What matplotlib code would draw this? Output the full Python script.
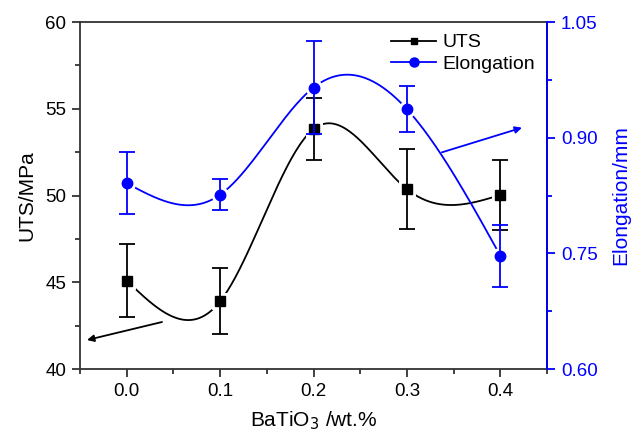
import numpy as np
import matplotlib
matplotlib.use("Agg")
import matplotlib.pyplot as plt
from matplotlib.ticker import MultipleLocator

plt.rcParams['font.family'] = ['Liberation Sans', 'DejaVu Sans']

# --- data ---
batio3 = [0.0, 0.1, 0.2, 0.3, 0.4]
uts = [45.1, 43.9, 53.83, 50.37, 50.03]
uts_err = [2.1, 1.9, 1.8, 2.3, 2.0]
elong = [0.841, 0.826, 0.965, 0.937, 0.747]
elong_err = [0.04, 0.02, 0.06, 0.03, 0.04]

BLUE = '#0000ff'


def natural_spline(x, y, n=300):
    # smooth connecting line (natural cubic spline) for drawing only
    x = np.asarray(x, float)
    y = np.asarray(y, float)
    k = len(x)
    h = np.diff(x)
    A = np.zeros((k, k))
    b = np.zeros(k)
    A[0, 0] = A[-1, -1] = 1
    for i in range(1, k - 1):
        A[i, i - 1] = h[i - 1]
        A[i, i] = 2 * (h[i - 1] + h[i])
        A[i, i + 1] = h[i]
        b[i] = 6 * ((y[i + 1] - y[i]) / h[i] - (y[i] - y[i - 1]) / h[i - 1])
    M = np.linalg.solve(A, b)
    xs = np.linspace(x[0], x[-1], n)
    idx = np.clip(np.searchsorted(x, xs) - 1, 0, k - 2)
    x0, x1 = x[idx], x[idx + 1]
    hh = x1 - x0
    t0, t1 = x1 - xs, xs - x0
    ys = (M[idx] * t0 ** 3 + M[idx + 1] * t1 ** 3) / (6 * hh) \
        + (y[idx] / hh - M[idx] * hh / 6) * t0 \
        + (y[idx + 1] / hh - M[idx + 1] * hh / 6) * t1
    return xs, ys


fig = plt.figure(figsize=(6.32, 4.32), dpi=100)
ax1 = fig.add_axes([0.1266, 0.1458, 0.7389, 0.8032])
ax2 = ax1.twinx()

# UTS on left axis
sx, sy = natural_spline(batio3, uts)
ax1.plot(sx, sy, color='black', lw=1.3, zorder=2)
ax1.plot(batio3, uts, 's', ms=6.5, color='white', mec='white', mew=5, zorder=3)
ax1.errorbar(batio3, uts, yerr=uts_err, fmt='none', ecolor='black',
             elinewidth=1.3, capsize=5.5, capthick=1.3, zorder=4)
ax1.plot(batio3, uts, 's', ms=6.5, color='black', zorder=5)

# Elongation on right axis
ex, ey = natural_spline(batio3, elong)
ax2.plot(ex, ey, color=BLUE, lw=1.3, zorder=2)
ax2.plot(batio3, elong, 'o', ms=7.5, color='white', mec='white', mew=5, zorder=3)
ax2.errorbar(batio3, elong, yerr=elong_err, fmt='none', ecolor=BLUE,
             elinewidth=1.3, capsize=5.5, capthick=1.3, zorder=4)
ax2.plot(batio3, elong, 'o', ms=7.5, color=BLUE, zorder=5)

ax1.set_xlim(-0.05, 0.45)
ax1.set_ylim(40, 60)
ax2.set_ylim(0.60, 1.05)

ax1.xaxis.set_major_locator(MultipleLocator(0.1))
ax1.xaxis.set_minor_locator(MultipleLocator(0.05))
ax1.yaxis.set_major_locator(MultipleLocator(5))
ax1.yaxis.set_minor_locator(MultipleLocator(2.5))
ax2.yaxis.set_major_locator(MultipleLocator(0.15))
ax2.yaxis.set_minor_locator(MultipleLocator(0.075))
ax1.xaxis.set_major_formatter(plt.FormatStrFormatter('%.1f'))
ax2.yaxis.set_major_formatter(plt.FormatStrFormatter('%.2f'))

for ax in (ax1, ax2):
    for s in ax.spines.values():
        s.set_linewidth(1.3)
ax1.spines['top'].set_color('#333333')
ax1.spines['left'].set_color('#333333')
ax1.spines['bottom'].set_color('#333333')
ax2.spines['right'].set_color(BLUE)
ax2.spines['top'].set_visible(False)
ax2.spines['left'].set_visible(False)
ax2.spines['bottom'].set_visible(False)

ax1.tick_params(axis='both', which='major', direction='out', length=6, width=1.3,
                labelsize=13.5, colors='#333333', labelcolor='black', pad=4)
ax1.tick_params(axis='both', which='minor', direction='out', length=3.5, width=1.3,
                colors='#333333')
ax2.tick_params(axis='y', which='major', direction='out', length=6, width=1.3,
                labelsize=13.5, colors=BLUE, pad=4)
ax2.tick_params(axis='y', which='minor', direction='out', length=3.5, width=1.3,
                colors=BLUE)

ax1.set_xlabel('BaTiO$_3$ /wt.%', fontsize=15, labelpad=7)
ax1.set_ylabel('UTS/MPa', fontsize=15, labelpad=6)
ax2.set_ylabel('Elongation/mm', fontsize=15, color=BLUE, labelpad=10)

# arrows pointing to the relevant axis
ax1.annotate('', xy=(-0.0425, 41.67), xytext=(0.0378, 42.71),
             arrowprops=dict(arrowstyle='-|>', color='black', lw=1.3,
                             mutation_scale=10, shrinkA=0, shrinkB=0))
ax1.annotate('', xy=(0.4232, 53.91), xytext=(0.3375, 52.49),
             arrowprops=dict(arrowstyle='-|>', color=BLUE, lw=1.3,
                             mutation_scale=10, shrinkA=0, shrinkB=0))

# legend
h1 = plt.Line2D([], [], color='black', lw=1.3, marker='s', ms=5)
h2 = plt.Line2D([], [], color=BLUE, lw=1.3, marker='o', ms=6.5)
ax2.legend([h1, h2], ['UTS', 'Elongation'], loc='upper right',
           bbox_to_anchor=(1.0, 1.0), frameon=False, fontsize=14,
           handlelength=2.3, handletextpad=0.35, labelspacing=0.2,
           borderaxespad=0.2)

fig.savefig('out.png', dpi=100)
